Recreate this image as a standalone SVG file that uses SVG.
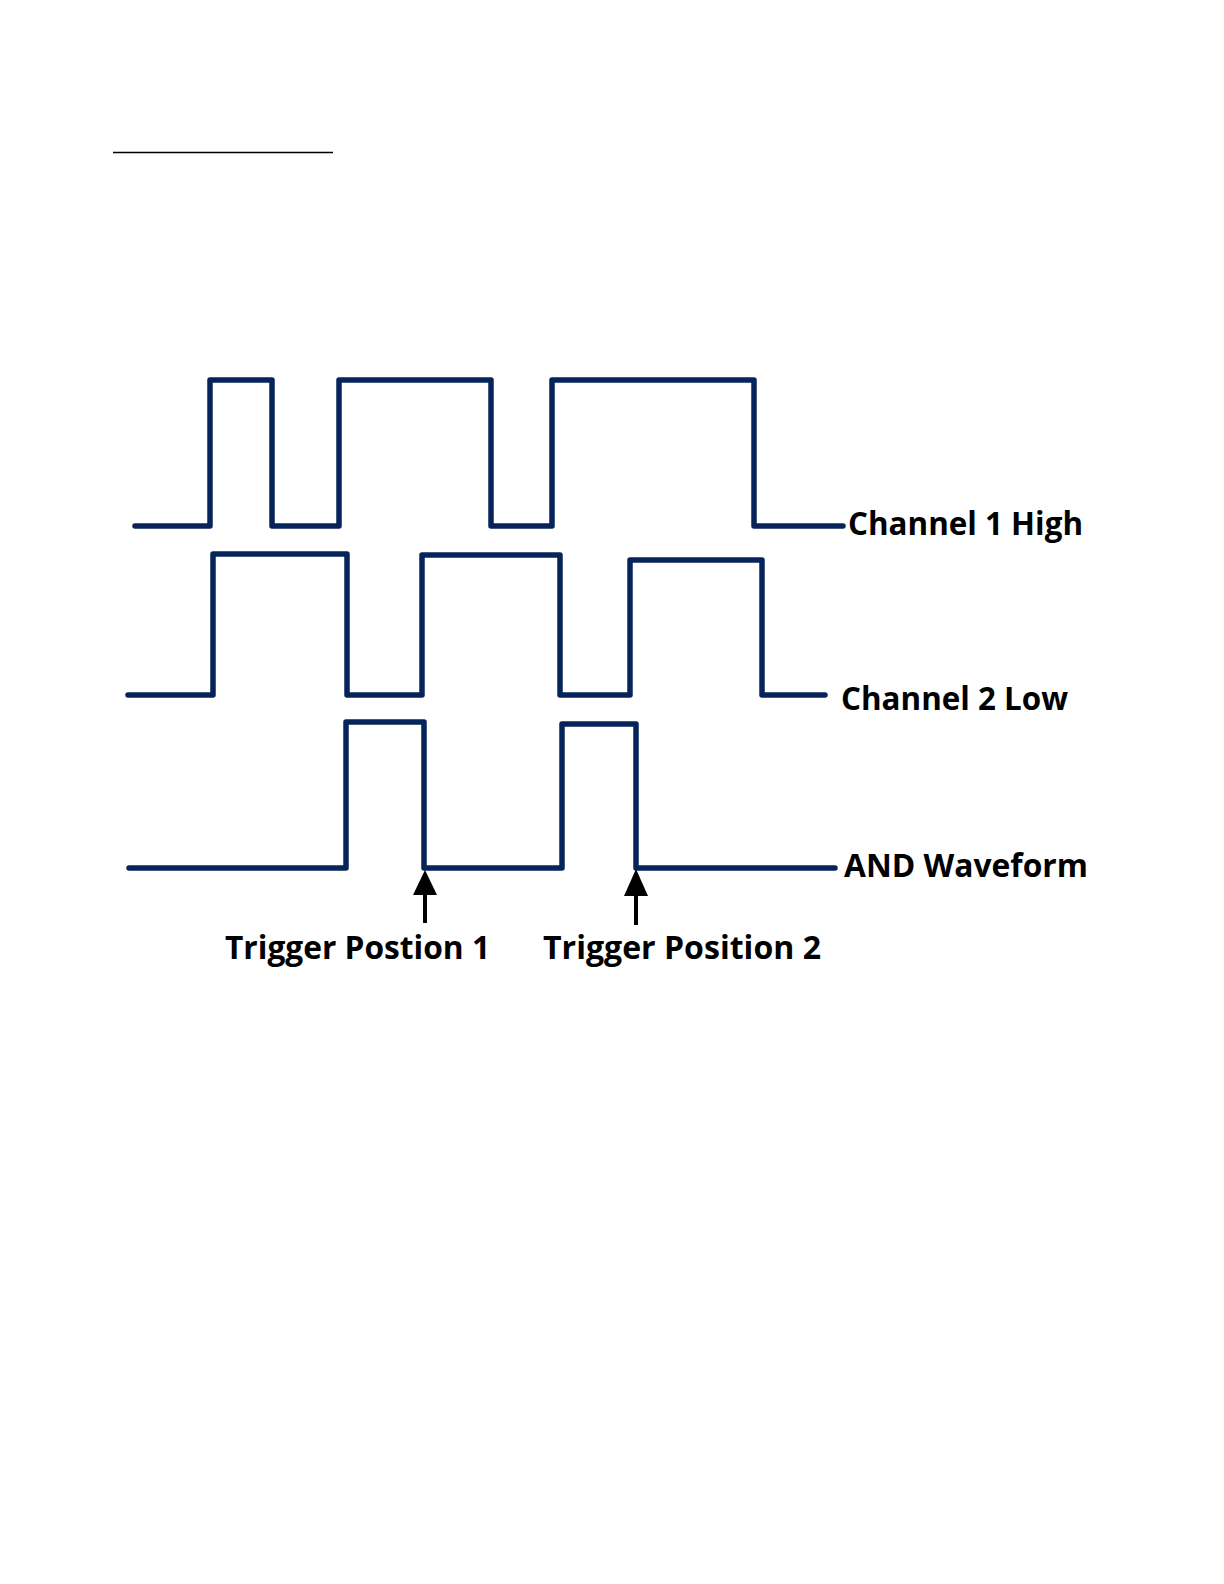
<svg xmlns="http://www.w3.org/2000/svg" width="1224" height="1584" viewBox="0 0 1224 1584">
  <style>
    .wave { fill: none; stroke: #06245a; stroke-width: 5.5; stroke-linejoin: round; stroke-linecap: round; }
    .lbl { font-family: "Open Sans", "Noto Sans", "Liberation Sans", sans-serif; font-weight: bold; font-size: 32px; fill: #000; }
    .arrow { stroke: #000; stroke-width: 4; }
    .head { fill: #000; }
  </style>
  <rect width="1224" height="1584" fill="#fff"/>
  <line x1="113" y1="152.5" x2="333" y2="152.5" stroke="#000" stroke-width="1.5"/>

  <g id="channel1">
    <path class="wave" d="M135,526 H210 V380 H272 V526 H339 V380 H491 V526 H552 V380 H754 V526 H843"/>
    <text class="lbl" x="848" y="535" textLength="235" lengthAdjust="spacingAndGlyphs">Channel 1 High</text>
  </g>
  <g id="channel2">
    <path class="wave" d="M128,695 H213 V554 H347 V695 H422 V555 H560 V695 H630 V560 H762 V695 H825"/>
    <text class="lbl" x="841" y="710" textLength="227" lengthAdjust="spacingAndGlyphs">Channel 2 Low</text>
  </g>
  <g id="andwave">
    <path class="wave" d="M129,868 H346 V722 H424 V868 H562 V724 H636 V868 H835"/>
    <text class="lbl" x="844" y="877" textLength="244" lengthAdjust="spacingAndGlyphs">AND Waveform</text>
  </g>
  <g id="trigger1">
    <text class="lbl" x="225" y="959" textLength="265" lengthAdjust="spacingAndGlyphs">Trigger Postion 1</text>
  </g>
  <g id="trigger2">
    <text class="lbl" x="543" y="959" textLength="278" lengthAdjust="spacingAndGlyphs">Trigger Position 2</text>
  </g>
  <g id="connectors">
    <line class="arrow" x1="425" y1="923" x2="425" y2="892"/>
    <polygon class="head" points="425,870 413,895 437,895"/>
    <line class="arrow" x1="636" y1="925" x2="636" y2="893"/>
    <polygon class="head" points="636,869 624,896 648,896"/>
  </g>
</svg>
